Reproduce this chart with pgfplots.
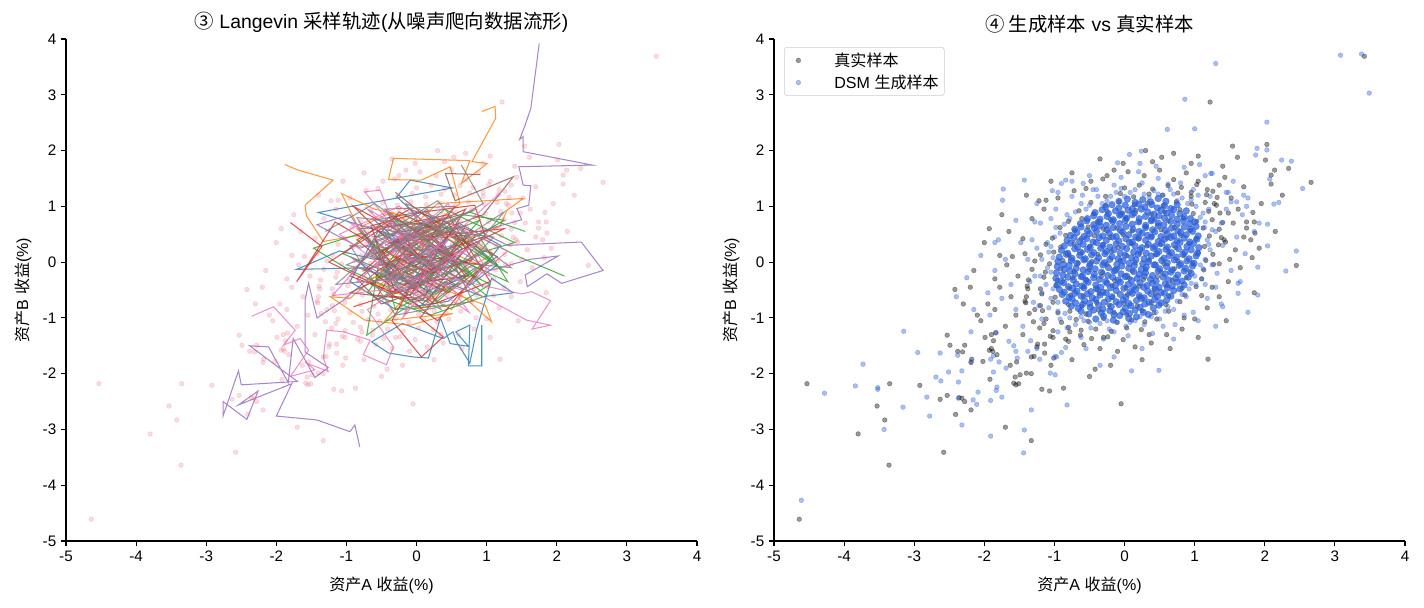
\documentclass[border=0pt]{standalone}
\usepackage{pgfplots}
\pgfplotsset{compat=1.18}
\usepackage{pgfplotstable}
\usepackage{fontspec}
\setmainfont{Liberation Sans}
\newfontfamily\cjk{Noto Sans CJK SC}

\definecolor{c0}{RGB}{31,119,180}
\definecolor{c1}{RGB}{255,127,14}
\definecolor{c2}{RGB}{44,160,44}
\definecolor{c3}{RGB}{214,39,40}
\definecolor{c4}{RGB}{148,103,189}
\definecolor{c5}{RGB}{140,86,75}
\definecolor{c6}{RGB}{227,119,194}
\definecolor{c7}{RGB}{127,127,127}
\definecolor{dsmblue}{RGB}{40,95,220}
\definecolor{realpink}{RGB}{230,90,110}

% real returns (asset A, asset B), in %
\pgfplotstableread[row sep=\\]{
x y\\
-4.53 -2.18\\ -3.35 -2.18\\ -3.53 -2.58\\ -3.42 -2.83\\ -3.80 -3.08\\ -3.36 -3.64\\ -4.64 -4.61\\ -2.92 -2.21\\
-2.63 -2.46\\ -2.58 -3.41\\ -2.53 -2.39\\ -2.49 -1.49\\ -2.53 -1.31\\ -2.41 -2.73\\ -2.36 -2.43\\ -2.32 -2.44\\
-2.28 -2.50\\ -2.19 -2.65\\ -2.38 -1.60\\ -2.31 -1.61\\ -2.28 -1.49\\ -2.19 -1.80\\ -2.18 -1.74\\ -1.99 -1.35\\
-2.02 -1.78\\ -1.92 -2.10\\ -1.90 -1.55\\ -1.88 -1.60\\ -1.93 -1.58\\ -1.87 -1.41\\ -1.84 -1.27\\ -1.82 -1.66\\
-1.70 -2.96\\ -1.63 -1.85\\ -1.54 -1.79\\ -1.56 -2.06\\ -1.58 -2.17\\ -1.55 -2.20\\ -1.51 -2.18\\ -1.49 -2.02\\
-1.40 -1.99\\ -1.33 -2.00\\ -1.33 -3.20\\ -1.33 -1.70\\ -1.29 -1.69\\ -1.18 -2.28\\ -1.07 -2.31\\ -1.24 -1.47\\
-1.14 -1.47\\ -1.14 -1.63\\ -1.01 -1.72\\ -0.87 -2.26\\ -0.42 -1.92\\ -0.05 -2.54\\ 1.19 -1.74\\ 3.42 3.69\\
1.22 2.87\\ 1.54 2.08\\ 1.61 1.88\\ 2.03 2.11\\ 2.01 1.83\\ 2.34 1.68\\ 2.14 1.65\\ 2.09 1.56\\
2.09 1.40\\ 2.66 1.43\\ 1.43 1.52\\ 0.95 1.77\\ 1.26 1.27\\ 1.32 1.16\\ 1.83 0.89\\ 1.74 0.72\\
1.85 0.72\\ 1.48 0.88\\ 1.80 0.40\\ 1.86 0.52\\ 1.74 0.61\\ 2.45 -0.06\\ 1.82 0.08\\ 1.44 0.36\\
1.35 -0.03\\ 0.53 1.88\\ -0.02 1.77\\ -0.15 1.65\\ -1.12 1.11\\ -0.31 1.49\\ -2.20 -0.45\\ -1.95 -0.75\\
-2.10 -0.95\\ -1.85 -0.30\\ -1.78 0.12\\
-1.55 -0.95\\ -1.70 -1.15\\ -1.45 -1.30\\ -1.62 -0.62\\ -1.85 -0.85\\ -1.78 -0.45\\ -1.52 -0.25\\ -1.60 0.10\\
-1.45 0.42\\ -1.65 0.55\\ -1.32 0.78\\ -1.15 0.95\\ -0.95 1.15\\ -0.72 1.28\\ -0.48 1.45\\ -0.25 1.55\\
0.05 1.62\\ 0.28 1.55\\ 0.50 1.65\\ 0.70 1.48\\ 0.88 1.60\\ 1.05 1.45\\ 1.18 1.30\\ 1.35 1.38\\
1.52 1.15\\ 1.62 0.95\\ 1.55 0.70\\ 1.70 0.45\\ 1.58 0.22\\ 1.65 -0.10\\ 1.48 -0.35\\ 1.35 -0.62\\
1.18 -0.82\\ 1.00 -1.02\\ 0.82 -1.20\\ 0.60 -1.30\\ 0.38 -1.45\\ 0.15 -1.52\\ -0.10 -1.60\\ -0.35 -1.55\\
-0.58 -1.48\\ -0.80 -1.42\\ -1.02 -1.35\\ -1.25 -1.52\\ -1.05 -1.85\\ -0.75 -1.75\\ -0.50 -2.05\\ -0.20 -1.85\\
0.25 -1.75\\ 0.65 -1.55\\ 1.05 -1.35\\ 1.45 -1.05\\ 1.85 -0.55\\ 1.92 0.25\\ 2.15 0.55\\ 1.95 1.05\\
2.25 1.20\\ 1.70 1.35\\ 1.40 1.72\\ 1.05 1.90\\ 0.70 1.95\\ 0.30 2.00\\ -0.35 1.85\\ -0.75 1.60\\
-1.05 1.45\\ -1.40 1.20\\ -1.75 0.85\\ -2.00 0.35\\ -2.15 -0.15\\ -2.30 -0.75\\ -2.05 -1.05\\ -1.90 -1.30\\
-2.42 -0.49\\ -1.93 0.60\\ -1.68 -0.05\\ -1.38 -0.48\\ -1.42 0.15\\ -1.28 -0.85\\ -1.22 1.10\\ -0.55 1.32\\
0.40 1.80\\ 0.95 1.25\\ 1.28 1.05\\ 1.42 0.40\\ 1.50 0.05\\ 1.25 -0.45\\ 1.10 -0.60\\ 0.85 -1.00\\
0.35 -1.30\\ -0.30 -1.35\\ -0.78 -1.25\\ -1.15 -1.10\\ -1.42 -0.70\\
-1.06 -1.33\\ -0.84 -1.38\\ -0.63 -1.31\\ -0.47 -1.37\\ -0.24 -1.34\\ -0.02 -1.39\\
-1.21 -1.18\\ -1.02 -1.23\\ -0.80 -1.17\\ -0.62 -1.22\\ -0.41 -1.20\\ -0.19 -1.24\\ 0.03 -1.18\\ 0.24 -1.21\\
-1.30 -1.07\\ -1.12 -1.02\\ -0.90 -1.08\\ -0.69 -1.03\\ -0.52 -1.06\\ -0.30 -1.01\\ -0.11 -1.08\\ 0.10 -1.04\\ 0.29 -1.07\\ 0.46 -1.02\\
-1.36 -0.92\\ -1.17 -0.87\\ -0.95 -0.91\\ -0.78 -0.88\\ -0.55 -0.93\\ -0.37 -0.86\\ -0.15 -0.90\\ 0.03 -0.94\\ 0.25 -0.87\\ 0.42 -0.91\\ 0.63 -0.88\\
-1.41 -0.73\\ -1.20 -0.78\\ -1.02 -0.72\\ -0.80 -0.76\\ -0.61 -0.79\\ -0.40 -0.72\\ -0.22 -0.77\\ -0.01 -0.74\\ 0.18 -0.79\\ 0.38 -0.73\\ 0.59 -0.76\\ 0.79 -0.71\\
-1.40 -0.62\\ -1.18 -0.57\\ -0.99 -0.63\\ -0.77 -0.59\\ -0.59 -0.61\\ -0.36 -0.56\\ -0.17 -0.63\\ 0.04 -0.58\\ 0.22 -0.62\\ 0.44 -0.57\\ 0.63 -0.61\\ 0.86 -0.59\\
-1.39 -0.43\\ -1.20 -0.48\\ -0.98 -0.42\\ -0.79 -0.47\\ -0.58 -0.44\\ -0.39 -0.49\\ -0.18 -0.42\\ 0.02 -0.46\\ 0.21 -0.43\\ 0.42 -0.48\\ 0.61 -0.42\\ 0.82 -0.47\\ 1.02 -0.44\\
-1.37 -0.32\\ -1.15 -0.27\\ -0.96 -0.33\\ -0.74 -0.28\\ -0.55 -0.31\\ -0.33 -0.26\\ -0.14 -0.33\\ 0.07 -0.29\\ 0.27 -0.31\\ 0.47 -0.26\\ 0.68 -0.33\\ 0.88 -0.28\\ 1.10 -0.30\\
-1.32 -0.13\\ -1.13 -0.18\\ -0.91 -0.12\\ -0.72 -0.17\\ -0.50 -0.14\\ -0.31 -0.19\\ -0.10 -0.12\\ 0.11 -0.16\\ 0.30 -0.13\\ 0.52 -0.18\\ 0.71 -0.12\\ 0.93 -0.17\\ 1.13 -0.14\\
-1.28 0.02\\ -1.07 -0.03\\ -0.88 0.03\\ -0.66 -0.02\\ -0.47 0.01\\ -0.25 -0.04\\ -0.06 0.03\\ 0.15 -0.01\\ 0.35 0.04\\ 0.56 -0.03\\ 0.76 0.02\\ 0.97 -0.02\\ 1.16 0.03\\ 1.27 -0.04\\
-1.20 0.13\\ -1.01 0.18\\ -0.79 0.12\\ -0.60 0.17\\ -0.38 0.14\\ -0.19 0.19\\ 0.03 0.12\\ 0.22 0.16\\ 0.44 0.13\\ 0.63 0.18\\ 0.85 0.12\\ 1.05 0.17\\ 1.26 0.14\\
-1.12 0.32\\ -0.91 0.27\\ -0.72 0.33\\ -0.50 0.28\\ -0.31 0.31\\ -0.09 0.26\\ 0.10 0.33\\ 0.32 0.29\\ 0.51 0.31\\ 0.73 0.26\\ 0.92 0.33\\ 1.14 0.28\\ 1.34 0.31\\
-1.03 0.43\\ -0.84 0.48\\ -0.62 0.42\\ -0.43 0.47\\ -0.21 0.44\\ -0.02 0.49\\ 0.20 0.42\\ 0.39 0.46\\ 0.61 0.43\\ 0.80 0.48\\ 1.02 0.42\\ 1.21 0.47\\ 1.38 0.44\\
-0.92 0.62\\ -0.71 0.57\\ -0.52 0.63\\ -0.30 0.59\\ -0.11 0.61\\ 0.11 0.56\\ 0.30 0.63\\ 0.52 0.58\\ 0.71 0.62\\ 0.93 0.57\\ 1.12 0.61\\ 1.35 0.59\\
-0.80 0.73\\ -0.61 0.78\\ -0.39 0.72\\ -0.20 0.76\\ 0.02 0.79\\ 0.21 0.72\\ 0.43 0.77\\ 0.62 0.74\\ 0.84 0.79\\ 1.03 0.73\\ 1.25 0.76\\ 1.40 0.71\\
-0.65 0.92\\ -0.44 0.87\\ -0.25 0.91\\ -0.03 0.88\\ 0.16 0.93\\ 0.38 0.86\\ 0.57 0.90\\ 0.79 0.94\\ 0.98 0.87\\ 1.20 0.91\\ 1.36 0.88\\
-0.48 1.07\\ -0.27 1.02\\ -0.08 1.08\\ 0.14 1.03\\ 0.33 1.06\\ 0.55 1.01\\ 0.74 1.08\\ 0.96 1.04\\ 1.15 1.07\\ 1.31 1.02\\
-0.27 1.18\\ -0.06 1.23\\ 0.13 1.17\\ 0.35 1.22\\ 0.54 1.20\\ 0.76 1.24\\ 0.95 1.18\\ 1.17 1.21\\
0.00 1.33\\ 0.21 1.38\\ 0.40 1.31\\ 0.62 1.37\\ 0.81 1.34\\ 1.03 1.39\\
}\realdata

% DSM samples away from the centre
\pgfplotstableread[row sep=\\]{
x y\\
-4.28 -2.35\\ -3.84 -2.22\\ -3.52 -2.25\\ -3.52 -2.28\\ -3.43 -3.00\\ -4.61 -4.27\\ -3.73 -1.83\\ -3.16 -2.60\\
-3.15 -1.24\\ -2.95 -1.62\\ -2.82 -2.42\\ -2.78 -2.76\\ -2.63 -1.63\\ -2.69 -2.06\\ -2.62 -2.13\\ -2.51 -1.97\\
-2.32 -2.92\\ -2.37 -2.44\\ -2.32 -1.95\\ -2.37 -2.15\\ -2.38 -1.67\\ -2.19 -1.78\\ -2.19 -1.25\\ -2.16 -2.47\\
-2.11 -2.55\\ -2.09 -2.33\\ -1.91 -2.48\\ -1.91 -3.12\\ -1.91 -1.74\\ -1.87 -1.68\\ -1.79 -1.79\\ -1.87 -1.97\\
-1.83 -2.30\\ -1.82 -2.24\\ -1.75 -2.42\\ -1.69 -1.90\\ -1.83 -1.26\\ -1.58 -1.50\\ -1.55 -1.60\\ -1.53 -1.72\\
-1.33 -2.65\\ -1.43 -3.01\\ -1.44 -3.42\\ -1.38 -1.60\\ -1.34 -1.41\\ -1.21 -1.74\\ -1.06 -1.99\\ -0.99 -2.02\\
-0.99 -1.69\\ -0.97 -1.70\\ -0.82 -2.56\\ -0.84 -1.53\\
3.08 3.71\\ 3.38 3.73\\ 3.49 3.03\\ 1.30 3.56\\ 2.03 2.51\\ 1.89 2.04\\ 1.87 1.92\\ 2.03 2.01\\
2.24 1.83\\ 2.38 1.81\\ 2.07 1.49\\ 2.54 1.32\\ 2.13 1.04\\ 2.20 1.07\\ 1.07 1.75\\ 1.25 1.59\\
1.48 1.25\\ 1.70 1.20\\ 1.76 1.15\\ 1.74 1.00\\ 1.92 0.70\\ 2.04 0.68\\ 1.52 1.08\\ 1.60 1.08\\
2.45 0.20\\ 2.30 -0.16\\ 2.04 0.29\\ 1.90 -0.09\\ 1.90 -0.59\\ 1.76 -0.90\\ 1.62 -0.56\\ 1.62 -0.38\\
1.38 -0.75\\ 0.49 -1.94\\ -1.73 1.31\\ -1.74 1.11\\ -1.43 1.47\\ 0.61 2.38\\ 0.24 1.99\\ 0.07 1.93\\
0.22 1.77\\ 1.23 1.59\\ -0.90 1.41\\ -0.84 1.47\\ -1.03 1.28\\ -0.59 1.41\\ 0.86 2.92\\ 1.00 2.39\\
-2.25 -0.28\\ -2.05 0.12\\ -1.95 -0.55\\ -2.40 -0.62\\ -1.85 0.35\\ -2.15 -0.85\\
-1.55 -0.85\\ -1.62 -0.40\\ -1.70 0.05\\ -1.48 0.35\\ -1.45 -1.15\\ -1.65 -1.42\\ -1.25 -1.55\\ -0.90 -1.62\\
-0.55 -1.55\\ -0.15 -1.70\\ 0.25 -1.55\\ 0.70 -1.38\\ 1.05 -1.05\\ 1.40 -0.80\\ 1.52 -0.15\\ 1.65 -0.35\\
1.72 0.15\\ 1.60 0.45\\ 1.68 0.85\\ 1.45 1.25\\ 1.45 0.95\\ 1.15 1.55\\ 0.85 1.70\\ 0.45 1.72\\
0.80 1.42\\ 0.48 1.50\\ -0.05 1.52\\ -0.10 1.78\\ -0.40 1.30\\ -0.50 1.55\\ -0.95 1.25\\ -1.25 1.05\\
-1.28 0.72\\ -1.55 0.75\\ -1.80 0.40\\ -1.85 -0.15\\ -1.75 -0.65\\ -1.92 -0.95\\ -0.35 -1.85\\ 0.10 -1.95\\
1.30 -1.15\\ 1.85 0.55\\ 1.55 1.45\\ 0.20 1.62\\ -0.75 1.45\\
1.15 0.05\\ 1.22 0.22\\ 1.18 0.40\\ 1.25 0.58\\ 1.15 0.72\\ 1.12 0.88\\ 1.02 1.00\\ 0.95 1.12\\
0.82 1.15\\ 0.70 1.22\\ 0.55 1.20\\ 0.42 1.28\\ 0.28 1.22\\ 0.15 1.30\\ 0.00 1.18\\ -0.12 1.25\\
-0.25 1.10\\ -0.38 1.18\\ -0.50 1.02\\ -0.62 1.05\\ -0.70 0.90\\ -0.82 0.85\\ -0.86 0.68\\ -0.98 0.62\\
-1.00 0.45\\ -1.10 0.35\\ -1.08 0.18\\ -1.18 0.05\\ -1.10 -0.10\\ -1.20 -0.25\\ -1.12 -0.40\\ -1.18 -0.55\\
-1.05 -0.65\\ -1.08 -0.82\\ -0.95 -0.88\\ -0.92 -1.02\\ -0.78 -1.00\\ -0.70 -1.12\\ -0.58 -1.05\\ -0.48 -1.18\\
-0.35 -1.10\\ -0.22 -1.20\\ -0.10 -1.08\\ 0.02 -1.15\\ 0.15 -1.05\\ 0.28 -1.12\\ 0.38 -0.98\\ 0.50 -1.02\\
0.58 -0.88\\ 0.70 -0.85\\ 0.75 -0.70\\ 0.88 -0.62\\ 0.92 -0.48\\ 1.02 -0.40\\ 1.00 -0.25\\ 1.12 -0.12\\
1.32 -0.20\\ 1.40 0.30\\ 1.38 0.70\\ 1.22 1.18\\ 0.98 1.30\\ 0.62 1.40\\ 0.25 1.42\\ -0.15 1.38\\
-0.45 1.30\\ -0.75 1.18\\ -0.98 0.95\\ -1.20 0.70\\ -1.32 0.40\\ -1.38 0.05\\ -1.35 -0.35\\ -1.30 -0.72\\
-1.18 -1.02\\ -0.95 -1.25\\ -0.62 -1.35\\ -0.30 -1.38\\ 0.05 -1.32\\ 0.40 -1.28\\ 0.72 -1.12\\ 0.98 -0.90\\
1.18 -0.65\\ 1.30 -0.45\\
1.10 -0.30\\ 1.20 0.32\\ 1.14 0.62\\ 1.08 0.80\\ 0.90 1.05\\ 0.75 1.10\\ 0.48 1.22\\ 0.35 1.16\\
0.08 1.25\\ -0.20 1.18\\ -0.32 1.05\\ -0.55 0.95\\ -0.78 0.78\\ -0.92 0.52\\ -1.05 0.28\\ -1.02 0.08\\
-1.05 -0.18\\ -1.02 -0.48\\ -0.95 -0.72\\ -0.85 -0.92\\ -0.62 -0.98\\ -0.50 -1.08\\ -0.25 -1.05\\ 0.08 -1.08\\
0.22 -0.98\\ 0.45 -0.90\\ 0.62 -0.80\\ 0.82 -0.58\\ 0.95 -0.38\\ 1.08 -0.05\\ 1.25 -0.05\\ 1.30 0.55\\
1.20 0.95\\ 1.05 1.20\\ 0.65 1.30\\ -0.05 1.32\\ -0.60 1.20\\ -1.05 0.78\\ -1.25 0.25\\ -1.28 -0.25\\
-1.22 -0.78\\ -0.82 -1.18\\ -0.15 -1.25\\ 0.55 -1.15\\ 0.85 -0.95\\ 1.15 -0.40\\
}\dsmouter

% DSM samples in the dense centre
\pgfplotstableread[row sep=\\]{
x y\\
-0.41 -1.02\\ -0.30 -0.97\\ -0.16 -1.04\\ -0.07 -0.96\\ 0.06 -1.01\\ 0.17 -0.98\\
-0.62 -0.88\\ -0.51 -0.93\\ -0.44 -0.86\\ -0.33 -0.91\\ -0.21 -0.87\\ -0.15 -0.94\\ -0.02 -0.89\\ 0.07 -0.92\\ 0.15 -0.86\\ 0.27 -0.90\\ 0.34 -0.94\\
-0.76 -0.79\\ -0.66 -0.83\\ -0.60 -0.76\\ -0.49 -0.81\\ -0.37 -0.77\\ -0.31 -0.84\\ -0.19 -0.80\\ -0.08 -0.76\\ 0.01 -0.83\\ 0.09 -0.78\\ 0.22 -0.81\\ 0.29 -0.75\\ 0.41 -0.82\\ 0.49 -0.77\\
-0.84 -0.70\\ -0.75 -0.66\\ -0.70 -0.73\\ -0.57 -0.69\\ -0.50 -0.74\\ -0.41 -0.67\\ -0.29 -0.72\\ -0.23 -0.66\\ -0.12 -0.71\\ -0.02 -0.68\\ 0.06 -0.74\\ 0.17 -0.69\\ 0.24 -0.65\\ 0.35 -0.72\\ 0.43 -0.67\\ 0.52 -0.73\\ 0.60 -0.68\\
-0.89 -0.58\\ -0.79 -0.63\\ -0.71 -0.56\\ -0.62 -0.61\\ -0.53 -0.57\\ -0.46 -0.64\\ -0.35 -0.59\\ -0.26 -0.55\\ -0.18 -0.62\\ -0.06 -0.58\\ 0.02 -0.63\\ 0.11 -0.56\\ 0.21 -0.60\\ 0.28 -0.64\\ 0.38 -0.57\\ 0.47 -0.62\\ 0.57 -0.56\\ 0.66 -0.61\\
-0.93 -0.49\\ -0.86 -0.54\\ -0.74 -0.47\\ -0.68 -0.52\\ -0.58 -0.46\\ -0.48 -0.53\\ -0.40 -0.48\\ -0.31 -0.54\\ -0.20 -0.46\\ -0.12 -0.51\\ -0.01 -0.47\\ 0.08 -0.53\\ 0.16 -0.49\\ 0.27 -0.45\\ 0.33 -0.52\\ 0.44 -0.48\\ 0.52 -0.54\\ 0.61 -0.46\\ 0.70 -0.51\\ 0.79 -0.48\\
-0.96 -0.41\\ -0.87 -0.37\\ -0.80 -0.44\\ -0.69 -0.39\\ -0.61 -0.43\\ -0.52 -0.36\\ -0.41 -0.41\\ -0.34 -0.45\\ -0.25 -0.38\\ -0.13 -0.42\\ -0.06 -0.36\\ 0.05 -0.40\\ 0.13 -0.44\\ 0.22 -0.37\\ 0.32 -0.42\\ 0.40 -0.38\\ 0.49 -0.45\\ 0.58 -0.39\\ 0.68 -0.43\\ 0.75 -0.36\\ 0.85 -0.41\\
-0.98 -0.29\\ -0.90 -0.34\\ -0.81 -0.27\\ -0.73 -0.32\\ -0.62 -0.26\\ -0.55 -0.33\\ -0.44 -0.28\\ -0.36 -0.31\\ -0.27 -0.35\\ -0.17 -0.27\\ -0.09 -0.32\\ 0.01 -0.26\\ 0.10 -0.33\\ 0.18 -0.29\\ 0.28 -0.25\\ 0.37 -0.31\\ 0.45 -0.34\\ 0.55 -0.27\\ 0.63 -0.32\\ 0.73 -0.29\\ 0.82 -0.34\\ 0.91 -0.27\\
-0.97 -0.19\\ -0.88 -0.23\\ -0.78 -0.16\\ -0.71 -0.21\\ -0.60 -0.25\\ -0.52 -0.17\\ -0.43 -0.22\\ -0.33 -0.18\\ -0.24 -0.24\\ -0.15 -0.16\\ -0.05 -0.21\\ 0.03 -0.25\\ 0.13 -0.17\\ 0.21 -0.22\\ 0.30 -0.19\\ 0.40 -0.24\\ 0.48 -0.16\\ 0.58 -0.21\\ 0.66 -0.18\\ 0.76 -0.23\\ 0.85 -0.16\\ 0.95 -0.20\\
-0.96 -0.08\\ -0.86 -0.13\\ -0.79 -0.06\\ -0.69 -0.11\\ -0.59 -0.14\\ -0.50 -0.07\\ -0.42 -0.12\\ -0.31 -0.05\\ -0.23 -0.10\\ -0.13 -0.14\\ -0.04 -0.07\\ 0.06 -0.11\\ 0.14 -0.06\\ 0.24 -0.13\\ 0.31 -0.09\\ 0.42 -0.05\\ 0.50 -0.12\\ 0.60 -0.08\\ 0.68 -0.14\\ 0.78 -0.06\\ 0.87 -0.11\\ 0.97 -0.07\\
-0.95 0.01\\ -0.87 -0.04\\ -0.76 0.03\\ -0.68 -0.02\\ -0.58 0.04\\ -0.49 -0.03\\ -0.40 0.02\\ -0.29 -0.01\\ -0.21 0.05\\ -0.11 -0.04\\ -0.02 0.02\\ 0.07 -0.02\\ 0.16 0.04\\ 0.26 -0.03\\ 0.34 0.01\\ 0.44 -0.05\\ 0.53 0.03\\ 0.61 -0.01\\ 0.71 0.04\\ 0.80 -0.03\\ 0.89 0.02\\ 0.99 -0.02\\
-0.93 0.09\\ -0.83 0.14\\ -0.75 0.07\\ -0.64 0.12\\ -0.56 0.06\\ -0.47 0.13\\ -0.37 0.08\\ -0.28 0.15\\ -0.18 0.10\\ -0.09 0.06\\ 0.01 0.12\\ 0.10 0.08\\ 0.19 0.14\\ 0.28 0.06\\ 0.38 0.11\\ 0.46 0.15\\ 0.56 0.07\\ 0.64 0.12\\ 0.74 0.09\\ 0.83 0.14\\ 0.92 0.06\\ 1.02 0.11\\
-0.90 0.21\\ -0.81 0.16\\ -0.71 0.24\\ -0.63 0.18\\ -0.53 0.23\\ -0.44 0.17\\ -0.34 0.25\\ -0.26 0.19\\ -0.15 0.22\\ -0.06 0.16\\ 0.03 0.24\\ 0.13 0.18\\ 0.22 0.22\\ 0.31 0.16\\ 0.41 0.25\\ 0.49 0.19\\ 0.59 0.23\\ 0.67 0.17\\ 0.77 0.24\\ 0.86 0.18\\ 0.95 0.22\\ 1.04 0.16\\
-0.86 0.29\\ -0.77 0.34\\ -0.67 0.27\\ -0.59 0.32\\ -0.49 0.26\\ -0.40 0.35\\ -0.31 0.30\\ -0.21 0.27\\ -0.12 0.33\\ -0.03 0.28\\ 0.07 0.35\\ 0.15 0.29\\ 0.25 0.26\\ 0.34 0.32\\ 0.43 0.28\\ 0.53 0.34\\ 0.61 0.27\\ 0.71 0.31\\ 0.79 0.35\\ 0.89 0.28\\ 0.98 0.33\\ 1.06 0.26\\
-0.82 0.39\\ -0.72 0.44\\ -0.64 0.37\\ -0.54 0.42\\ -0.45 0.36\\ -0.36 0.44\\ -0.26 0.39\\ -0.17 0.45\\ -0.08 0.38\\ 0.02 0.42\\ 0.11 0.36\\ 0.20 0.43\\ 0.30 0.39\\ 0.38 0.45\\ 0.48 0.37\\ 0.57 0.41\\ 0.66 0.44\\ 0.75 0.38\\ 0.85 0.43\\ 0.93 0.36\\ 1.03 0.41\\
-0.77 0.48\\ -0.68 0.53\\ -0.58 0.46\\ -0.50 0.51\\ -0.40 0.55\\ -0.31 0.47\\ -0.22 0.52\\ -0.12 0.46\\ -0.03 0.54\\ 0.06 0.49\\ 0.16 0.45\\ 0.25 0.52\\ 0.33 0.48\\ 0.43 0.54\\ 0.52 0.46\\ 0.61 0.51\\ 0.70 0.47\\ 0.80 0.53\\ 0.88 0.49\\ 0.97 0.55\\ 1.05 0.47\\
-0.71 0.59\\ -0.62 0.63\\ -0.53 0.56\\ -0.43 0.61\\ -0.35 0.65\\ -0.25 0.58\\ -0.16 0.62\\ -0.06 0.57\\ 0.02 0.64\\ 0.12 0.59\\ 0.21 0.55\\ 0.30 0.62\\ 0.40 0.58\\ 0.48 0.65\\ 0.58 0.57\\ 0.67 0.61\\ 0.76 0.56\\ 0.85 0.63\\ 0.94 0.59\\ 1.02 0.64\\
-0.63 0.69\\ -0.54 0.74\\ -0.44 0.67\\ -0.36 0.72\\ -0.26 0.66\\ -0.17 0.73\\ -0.07 0.69\\ 0.01 0.75\\ 0.11 0.68\\ 0.20 0.72\\ 0.30 0.66\\ 0.38 0.74\\ 0.48 0.70\\ 0.56 0.67\\ 0.66 0.73\\ 0.75 0.68\\ 0.84 0.74\\ 0.93 0.69\\ 1.00 0.72\\
-0.53 0.78\\ -0.44 0.83\\ -0.35 0.77\\ -0.25 0.82\\ -0.16 0.76\\ -0.07 0.84\\ 0.03 0.79\\ 0.11 0.85\\ 0.21 0.78\\ 0.30 0.82\\ 0.39 0.76\\ 0.49 0.83\\ 0.57 0.79\\ 0.67 0.84\\ 0.75 0.77\\ 0.85 0.81\\ 0.94 0.78\\
-0.42 0.89\\ -0.32 0.94\\ -0.23 0.87\\ -0.13 0.92\\ -0.05 0.86\\ 0.05 0.93\\ 0.14 0.88\\ 0.24 0.95\\ 0.33 0.90\\ 0.42 0.86\\ 0.52 0.93\\ 0.60 0.88\\ 0.70 0.94\\ 0.79 0.87\\ 0.88 0.92\\
-0.27 0.99\\ -0.18 1.03\\ -0.08 0.97\\ 0.01 1.02\\ 0.11 0.96\\ 0.20 1.04\\ 0.29 0.99\\ 0.39 1.03\\ 0.47 0.97\\ 0.57 1.01\\ 0.66 0.96\\ 0.75 1.03\\
-0.08 1.09\\ 0.04 1.13\\ 0.15 1.07\\ 0.26 1.12\\ 0.37 1.08\\ 0.48 1.14\\ 0.59 1.09\\
}\dsmcore

\pgfplotsset{
  panel/.style={
    scale only axis, width=6.31in, height=5.02in,
    xmin=-5, xmax=4, ymin=-5, ymax=4,
    axis x line*=bottom, axis y line*=left,
    axis line style={-, line width=0.8pt, black},
    xtick={-5,-4,-3,-2,-1,0,1,2,3,4},
    ytick={-5,-4,-3,-2,-1,0,1,2,3,4},
    xticklabels={-5,-4,-3,-2,-1,0,1,2,3,4},
    yticklabels={-5,-4,-3,-2,-1,0,1,2,3,4},
    tick align=outside, major tick length=3.5pt,
    every tick/.style={black, line width=0.8pt},
    tick label style={font=\fontsize{11}{13}\selectfont},
    label style={font=\fontsize{11.6}{14}\selectfont},
    title style={font=\fontsize{14}{17}\selectfont, yshift=-5pt},
    xlabel style={yshift=-4pt},
    ylabel style={at={(axis description cs:-0.068,0.5)}, anchor=center},
    xlabel={{\cjk 资产}A {\cjk 收益}(\%)},
    ylabel={{\cjk 资产}B {\cjk 收益}(\%)},
  },
  chain/.style={#1, line width=0.75pt, opacity=0.8},
}

\begin{document}
\begin{tikzpicture}
\useasboundingbox (0,0) rectangle (14.24in,6.08in);

% ---- left: Langevin chains over the data cloud
\begin{axis}[panel, at={(0.66in,0.67in)},
  title={{\cjk ③} Langevin {\cjk 采样轨迹}({\cjk 从噪声爬向数据流形})}]
\addplot[only marks, mark=*, mark size=1.7pt, realpink,
  mark options={fill opacity=0.22, draw opacity=0.22, line width=0.3pt}] table {\realdata};

\addplot[chain=c0] coordinates {(0.93,-1.13) (0.93,-1.86) (0.74,-1.86) (0.76,-1.13) (0.56,-1.25) (0.74,-1.51) (0.48,-1.46) (0.34,-1.00) (0.17,-1.72) (-0.05,-1.70) (-0.40,-1.63) (-0.64,-1.43) (-0.20,-1.10) (0.38,-1.37) (0.52,-1.25) (0.57,-1.43) (0.76,-1.81) (0.86,-1.20) (1.07,-0.29) (1.38,-0.55) (0.95,-0.62) (0.40,-0.35) (0.05,-0.80) (-0.35,-0.45) (-0.70,-0.10) (-1.71,-0.13) (-1.10,0.20) (-0.60,0.05) (-0.25,0.45) (-1.40,0.89) (0.51,1.33) (-0.09,1.47) (-0.28,1.17) (0.20,0.60) (0.65,0.25) (0.35,-0.15) (-0.15,0.10) (0.10,0.35) (-0.45,-0.20) (0.25,-0.55) (0.85,-0.10) (0.45,0.15) (-0.05,-0.30) (0.60,0.70) (1.20,0.30) (0.75,-0.40) (0.15,0.05) (-0.55,0.55) (-0.95,-0.35) (-0.30,-0.85) (0.45,-0.70) (1.15,-0.05) (0.70,0.45) (0.05,0.90) (-0.60,0.75) (-0.15,0.25) (0.30,-0.25)};
\addplot[chain=c1] coordinates {(-1.88,1.75) (-1.69,1.65) (-1.19,1.47) (-1.59,1.02) (-1.57,0.83) (-1.33,0.37) (-0.78,0.49) (-1.07,1.23) (-0.60,0.95) (-0.10,0.80) (0.55,0.35) (1.19,0.64) (1.29,0.93) (1.52,1.14) (0.30,1.05) (-0.45,0.20) (0.20,-0.25) (0.70,-0.65) (1.07,-1.07) (0.98,-0.77) (0.40,-0.50) (-0.30,-0.10) (0.15,0.40) (-0.55,-0.45) (0.05,-0.85) (0.60,-0.20) (1.10,0.15) (0.45,0.55) (-0.20,0.25) (0.35,-0.05) (-0.70,-0.30) (-0.20,-0.60) (0.25,0.10)};
\addplot[chain=c1] coordinates {(0.93,2.70) (1.12,2.79) (1.13,2.58) (0.79,1.80) (1.01,1.77) (0.64,1.41) (0.76,1.82) (-0.33,1.86) (-0.40,1.48) (0.07,1.47) (0.48,1.71) (0.62,1.05) (0.10,0.55) (-0.35,0.90) (-0.85,0.60) (-0.40,0.05) (0.25,0.30) (0.90,-0.05) (0.50,-0.85) (-0.15,-0.40) (0.35,0.75) (-0.95,-0.65) (-1.23,-0.62) (-0.74,-1.04) (-0.09,-1.13) (0.52,-0.92) (-0.45,-1.05) (0.15,-0.15)};
\addplot[chain=c2] coordinates {(2.11,-0.25) (1.45,0.10) (0.90,0.45) (1.30,-0.35) (0.60,0.05) (0.95,-0.45) (0.35,0.30) (-0.15,-0.20) (0.30,-0.70) (0.75,-0.20) (0.10,0.55) (-0.45,0.15) (-0.78,0.52) (-1.47,0.25) (-0.95,-0.15) (-0.40,-0.45) (0.20,-0.15) (0.70,0.35) (1.25,0.75) (0.65,0.85) (0.05,0.25) (-0.30,0.75) (0.45,0.60) (1.05,0.05) (0.50,-0.45) (-0.10,-0.75) (-0.65,-0.40) (-0.25,0.05) (0.35,-0.30) (0.85,0.15) (1.40,0.35) (0.40,0.95) (-0.10,0.40) (0.55,0.15) (0.05,-0.40) (-0.55,-0.10) (-0.71,-1.31) (-0.20,-0.85) (0.60,-0.75) (1.05,-0.40) (0.15,0.20)};
\addplot[chain=c2] coordinates {(1.55,0.55) (0.75,0.90) (-0.05,0.60) (-0.70,-0.55) (0.20,-0.95) (1.00,-0.60) (0.35,0.05) (-0.40,0.80) (-1.05,0.15) (-0.20,-0.30) (0.65,0.40) (1.30,-0.20) (0.25,0.65) (-0.60,0.45) (-0.30,-0.85) (0.50,-0.30) (-0.15,0.25) (0.90,0.75) (0.00,-0.50) (-0.80,-0.10)};
\addplot[chain=c3] coordinates {(-1.80,0.71) (-1.35,0.28) (-1.71,-0.35) (-1.16,0.72) (-0.60,0.30) (-0.95,-0.25) (-0.30,-0.55) (-0.65,0.65) (0.10,0.90) (0.83,1.02) (0.98,0.46) (0.35,0.20) (-0.20,-0.05) (0.40,-0.45) (0.05,-1.00) (0.38,-1.34) (0.07,-1.70) (-0.35,-1.05) (-0.05,-0.35) (0.55,0.10) (0.15,0.55) (-0.50,0.20) (-0.10,-0.40) (0.70,-0.25) (0.30,0.35) (-0.40,0.85) (0.00,0.15) (-0.75,-0.15) (-0.25,0.40) (0.45,0.70) (0.80,0.05) (0.20,-0.20) (-0.30,0.10) (0.05,0.70) (0.60,0.40) (0.10,-0.65) (-0.55,-0.60) (-0.15,0.25)};
\addplot[chain=c3] coordinates {(-0.90,-0.80) (0.10,-0.40) (0.80,0.55) (-0.10,0.95) (-0.85,0.40) (0.25,-0.75) (1.05,-0.35) (0.45,0.85) (-0.50,0.60) (-1.25,0.00) (-0.35,-0.55) (0.60,0.20) (1.25,0.60) (0.15,0.45) (-0.60,-0.20) (0.30,-1.05) (0.95,-0.05) (-0.20,0.15) (-0.90,1.00) (0.40,0.10) (-0.10,-0.60) (0.70,0.95) (-0.45,0.30)};
\addplot[chain=c4] coordinates {(1.75,3.92) (1.63,2.76) (1.55,2.46) (1.47,2.20) (1.52,2.25) (1.52,1.98) (2.51,1.74) (1.46,1.71) (1.52,1.38) (1.63,1.37) (1.60,1.02) (1.43,0.96) (1.50,0.76) (0.90,0.55) (1.30,0.30) (2.35,0.36) (2.66,-0.15) (2.07,-0.38) (1.86,-0.21) (1.58,-0.44) (1.55,-0.23) (2.02,0.11) (1.62,0.05) (1.05,-0.15) (0.50,0.30) (-0.10,0.05) (0.30,-0.40) (-0.35,-0.30) (-0.95,0.85) (-1.42,0.67) (-0.80,0.25) (-0.20,0.55) (0.40,0.80) (0.15,0.15) (-0.45,-0.10) (0.05,-0.55) (0.65,-0.30) (0.25,0.45)};
\addplot[chain=c4] coordinates {(-0.81,-3.31) (-0.88,-2.92) (-0.95,-3.04) (-1.42,-2.83) (-2.00,-2.76) (-1.78,-2.18) (-2.54,-2.56) (-2.26,-2.31) (-2.42,-2.82) (-2.76,-2.50) (-2.76,-2.76) (-2.54,-1.95) (-2.50,-2.20) (-1.70,-2.14) (-2.38,-1.50) (-2.11,-1.52) (-1.83,-2.16) (-1.76,-1.37) (-1.45,-2.07) (-1.26,-1.89) (-1.59,-1.61) (-1.59,-0.68) (-1.54,-0.38) (-1.42,-1.00) (-1.04,-0.68) (-0.60,-0.20) (-0.95,0.10) (-0.30,-0.35) (0.10,0.20) (-0.40,0.45) (0.25,-0.10) (-0.20,-0.60) (0.45,0.40) (-0.10,0.05)};
\addplot[chain=c5] coordinates {(0.91,1.57) (0.41,1.59) (0.55,1.10) (1.38,1.53) (0.95,0.85) (0.30,0.55) (-0.25,0.90) (-0.60,0.40) (-0.15,-0.10) (0.40,0.10) (0.10,-0.50) (-0.50,-0.75) (-0.85,-0.30) (-0.35,0.20) (0.25,0.75) (0.75,0.30) (0.35,-0.25) (-0.20,0.40) (0.50,0.55) (-0.05,-0.20) (-0.65,0.10) (0.00,0.55) (0.60,-0.05) (0.20,0.30) (-0.40,-0.35) (0.15,-0.80) (0.55,-0.40) (-0.10,0.10)};
\addplot[chain=c5] coordinates {(-0.30,1.25) (0.35,0.60) (-0.55,0.05) (0.45,-0.55) (1.15,0.10) (0.10,0.70) (-0.80,0.60) (-0.25,-0.40) (0.75,-0.25) (0.25,0.30) (-0.45,0.95) (0.55,1.00) (-0.10,-0.05) (-0.95,-0.55) (0.15,-0.70) (0.85,0.50) (-0.35,0.35) (0.40,-0.15)};
\addplot[chain=c6] coordinates {(-2.35,-0.97) (-2.04,-0.80) (-1.73,-1.22) (-1.90,-1.49) (-1.66,-1.37) (-1.54,-1.58) (-1.80,-2.05) (-1.45,-1.93) (-1.57,-1.81) (-1.26,-1.96) (-1.33,-1.72) (-1.28,-1.22) (-1.04,-1.25) (-0.66,-1.40) (-0.76,-1.66) (-0.43,-1.84) (-0.33,-1.52) (-0.70,-0.85) (-0.20,-0.45) (-0.60,-0.05) (-0.15,0.35) (-0.74,1.26) (-0.52,1.29) (-0.30,0.60) (0.25,0.20) (-0.10,-0.25) (0.50,-0.30) (1.50,-0.57) (1.64,-0.53) (1.91,-0.69) (1.65,-1.20) (1.91,-1.13) (1.57,-1.04) (0.85,-0.55) (0.30,-0.05) (-0.35,0.15) (0.10,0.60) (-0.45,-0.40) (0.20,-0.65) (-0.25,-0.10) (0.40,0.35)};
\addplot[chain=c6] coordinates {(1.20,1.25) (0.50,0.45) (-0.25,1.00) (-1.10,0.50) (-0.40,-0.15) (0.65,-0.50) (1.30,0.20) (0.30,0.80) (-0.60,0.25) (-1.20,-0.60) (-0.15,-0.45) (0.90,0.35) (0.20,-0.10) (-0.70,0.95) (-0.05,0.50) (0.75,-0.90) (0.05,-0.30) (-0.85,-0.35) (0.45,1.05) (1.05,-0.25) (-0.35,0.55) (0.55,0.15) (-0.20,-1.00) (0.35,0.40) (-0.95,0.70) (0.00,0.00)};
\addplot[chain=c7] coordinates {(0.64,1.74) (0.95,1.05) (0.45,0.70) (-0.15,1.05) (0.20,0.40) (-0.50,0.60) (-0.10,0.00) (0.55,0.25) (0.15,-0.35) (-0.45,-0.15) (0.05,0.45) (0.70,0.65) (0.30,-0.10) (-0.30,0.30) (0.25,0.80) (-0.65,0.35) (-0.05,-0.45) (0.50,-0.15) (0.00,0.25) (-0.40,0.70) (0.35,0.50) (-0.20,-0.20) (0.40,0.05) (-0.05,0.60) (-0.55,-0.05) (0.20,0.15)};
\addplot[chain=c7] coordinates {(-1.30,0.55) (-0.60,1.05) (0.20,0.35) (-0.45,-0.60) (0.55,-0.15) (1.25,0.90) (0.40,0.20) (-0.95,0.30) (-0.30,-0.95) (0.80,-0.70) (0.15,0.95) (-0.70,0.15) (0.45,-0.40) (1.10,0.45) (-0.20,0.65) (-1.15,-0.40) (0.05,-0.25) (0.95,0.15) (0.30,1.10) (-0.55,0.45) (0.70,-0.35) (-0.15,-0.70) (-0.85,0.80) (0.60,0.60) (1.35,-0.10) (0.10,0.05) (-0.50,-0.25) (0.35,-0.85) (-0.25,0.30) (0.85,0.95) (-1.00,-0.05) (0.20,-0.45)};
\end{axis}

% ---- right: generated vs real samples
\begin{axis}[panel, at={(7.74in,0.67in)},
  title={{\cjk ④ 生成样本} vs {\cjk 真实样本}},
  legend style={at={(0.016,0.984)}, anchor=north west, draw=black!20,
    rounded corners=2pt, font=\fontsize{11.6}{14}\selectfont,
    nodes={inner sep=1pt}, inner xsep=3pt, inner ysep=2.8pt, row sep=2.7pt},
  legend cell align=left,
  legend image code/.code={
    \path[draw=none, fill=none] (0cm,-0.1cm) rectangle (1.13cm,0.1cm);
    \draw[#1] plot coordinates {(0.25cm,0cm)};}]
\addplot[only marks, mark=*, mark size=1.7pt, black,
  mark options={fill opacity=0.4, draw opacity=0.4, line width=0.3pt}] table {\realdata};
\addlegendentry{{\cjk 真实样本}}
\addplot[only marks, mark=*, mark size=1.7pt, dsmblue,
  mark options={fill opacity=0.4, draw opacity=0.4, line width=0.3pt}] table {\dsmouter};
\addlegendentry{DSM {\cjk 生成样本}}
\addplot[only marks, mark=*, mark size=2.4pt, dsmblue, forget plot,
  mark options={fill opacity=0.72, draw opacity=0.72, line width=0.3pt}] table {\dsmcore};
\end{axis}
\end{tikzpicture}
\end{document}
